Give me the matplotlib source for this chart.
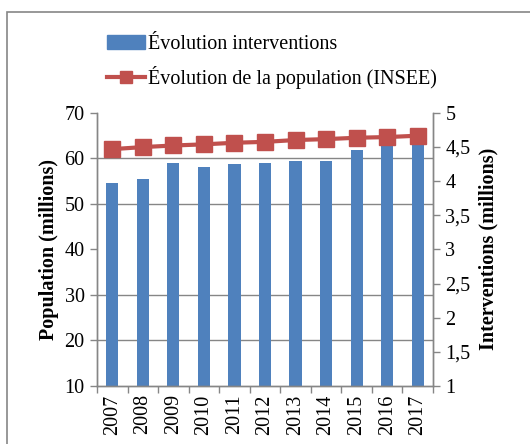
import matplotlib
matplotlib.use("Agg")
import matplotlib.pyplot as plt
from matplotlib.patches import Rectangle, Patch
from matplotlib.lines import Line2D
from matplotlib.ticker import FixedLocator
import numpy as np

years = ["2007", "2008", "2009", "2010", "2011", "2012", "2013", "2014", "2015", "2016", "2017"]
interventions = [3.97, 4.03, 4.26, 4.21, 4.25, 4.26, 4.30, 4.30, 4.46, 4.60, 4.62]
population = [62.0, 62.45, 62.8, 63.05, 63.4, 63.6, 64.0, 64.2, 64.5, 64.65, 64.95]
left_ticks = [10, 20, 30, 40, 50, 60, 70]
right_ticks = [1, 1.5, 2, 2.5, 3, 3.5, 4, 4.5, 5]
right_labels = ["1", "1,5", "2", "2,5", "3", "3,5", "4", "4,5", "5"]

plt.rcParams['font.family'] = ['Liberation Serif', 'DejaVu Serif']
GRAY = "#868686"
BLUE = "#4F81BD"
RED = "#C0504D"
FS = 14.5

fig = plt.figure(figsize=(5.30, 4.44), dpi=100)
ax = fig.add_axes([97/530, 1-386/444, (433-97)/530, (386-112.7)/444])
ax2 = ax.twinx()

x = np.arange(len(years))

# bars on the right (secondary) scale, drawn underneath
ax2.set_zorder(0)
ax.set_zorder(1)
ax.patch.set_visible(False)
ax2.bar(x, interventions, width=0.4, color=BLUE, zorder=2)
ax2.set_ylim(1, 5)
ax2.set_yticks(right_ticks)
ax2.set_yticklabels(right_labels, fontsize=FS)
# gridlines matching the left ticks
grid_pos = [1 + (v - 10) * 4 / 60 for v in left_ticks]
ax2.yaxis.set_minor_locator(FixedLocator(grid_pos))
ax2.grid(which='minor', axis='y', color=GRAY, linewidth=1, zorder=0)
ax2.set_axisbelow(True)
ax2.tick_params(axis='y', which='minor', length=0)
ax2.tick_params(axis='y', which='major', length=5, color=GRAY, width=1, pad=4)
ax2.set_ylabel("Interventions (millions)", fontsize=FS, fontweight='bold', labelpad=6)

# population line on left scale
ax.plot(x, population, color=RED, linewidth=3, marker='s', markersize=11, zorder=3)
ax.set_ylim(10, 70)
ax.set_yticks(left_ticks)
ax.set_yticklabels([str(v) for v in left_ticks], fontsize=FS)
ax.tick_params(axis='y', length=5, color=GRAY, width=1, pad=4)
ax.set_ylabel("Population (millions)", fontsize=FS, fontweight='bold', labelpad=4)

ax.set_xlim(-0.5, len(years) - 0.5)
ax.set_xticks(x)
ax.set_xticklabels(years, rotation=90, fontsize=FS)
ax.tick_params(axis='x', which='major', length=0, pad=6)
ax.set_xticks(np.arange(-0.5, len(years), 1), minor=True)
ax.tick_params(axis='x', which='minor', length=5, color=GRAY, width=1)

for a in (ax, ax2):
    for s in a.spines.values():
        s.set_color(GRAY)
        s.set_linewidth(1)
    a.spines['top'].set_visible(False)

# legend
handles = [Patch(color=BLUE),
           Line2D([], [], color=RED, linewidth=3, marker='s', markersize=9)]
labels = ["Évolution interventions", "Évolution de la population (INSEE)"]
fig.legend(handles, labels, loc='upper left', bbox_to_anchor=(99/530, 1-27/444),
           frameon=False, fontsize=FS, handlelength=1.9, handletextpad=0.15,
           labelspacing=0.6, borderaxespad=0)

# outer frame
fig.add_artist(Rectangle((7/530, -0.1), 1.2, 1 - 12/444 + 0.1, transform=fig.transFigure,
                         fill=False, edgecolor=GRAY, linewidth=1.2, clip_on=False))

fig.savefig("out.png", dpi=100)
